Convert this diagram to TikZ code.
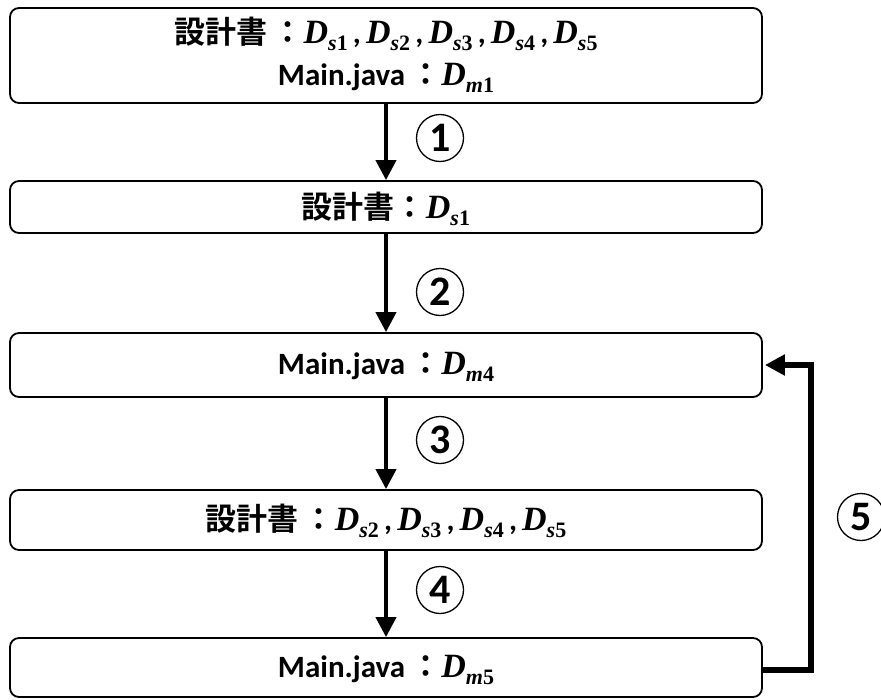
\documentclass[tikz,border=0pt]{standalone}
\usepackage{fontspec}
\usepackage{amsmath}
\setmainfont{Carlito}
\newfontfamily\jp{Noto Sans CJK JP}[BoldFont={* Bold}]
\newfontfamily\ms{Liberation Serif}
\usetikzlibrary{arrows.meta}
\newcommand{\Dd}[2]{{\ms\bfseries\itshape\fontsize{34}{36}\selectfont D}\raisebox{-7pt}{\ms\bfseries\fontsize{22}{24}\selectfont\itshape #1\upshape #2}}
\newcommand{\cm}{\,,\,}
\begin{document}
\begin{tikzpicture}[x=1pt,y=-1pt,
  stepbox/.style={draw,line width=1.8pt,rounded corners=9pt,minimum width=752pt,inner sep=0pt},
  txt/.style={font=\bfseries\fontsize{31}{34}\selectfont,align=center},
  flow/.style={line width=4pt,-{Triangle[length=20pt,width=20pt]}},
  back/.style={line width=6pt,-{Triangle[length=20pt,width=20pt]},shorten >=2pt},
  num/.style={circle,draw,line width=1.3pt,minimum size=47pt,inner sep=0pt,font=\bfseries\fontsize{42}{42}\selectfont}]
\useasboundingbox (0,0) rectangle (881,699);
\node[stepbox,minimum height=95pt] (b1) at (386,55.5) {};
\node[stepbox,minimum height=52pt] (b2) at (386,207) {};
\node[stepbox,minimum height=64pt] (b3) at (386,365) {};
\node[stepbox,minimum height=60pt] (b4) at (386,520) {};
\node[stepbox,minimum height=59pt] (b5) at (386,667.5) {};
\node[txt] (t1a) at (386,34) {{\jp 設計書\,：}\Dd{s}{1}\cm\Dd{s}{2}\cm\Dd{s}{3}\cm\Dd{s}{4}\cm\Dd{s}{5}};
\node[txt] (t1b) at (386,78) {Main.java\,{\jp ：}\Dd{m}{1}};
\node[txt] (t2) at (386,209) {{\jp 設計書：}\Dd{s}{1}};
\node[txt] (t3) at (386,367) {Main.java\,{\jp ：}\Dd{m}{4}};
\node[txt] (t4) at (386,521) {{\jp 設計書\,：}\Dd{s}{2}\cm\Dd{s}{3}\cm\Dd{s}{4}\cm\Dd{s}{5}};
\node[txt] (t5) at (386,670) {Main.java\,{\jp ：}\Dd{m}{5}};
\draw[flow] (b1) -- (b2);
\draw[flow] (b2) -- (b3);
\draw[flow] (b3) -- (b4);
\draw[flow] (b4) -- (b5);
\draw[back] (b5.east |- 0,670) -- (811,670) |- (b3.east);
\node[num] (n1) at (440,138) {1};
\node[num] (n2) at (440,292) {2};
\node[num] (n3) at (440,440) {3};
\node[num] (n4) at (440,590) {4};
\node[num] (n5) at (861,517) {5};
\end{tikzpicture}
\end{document}
